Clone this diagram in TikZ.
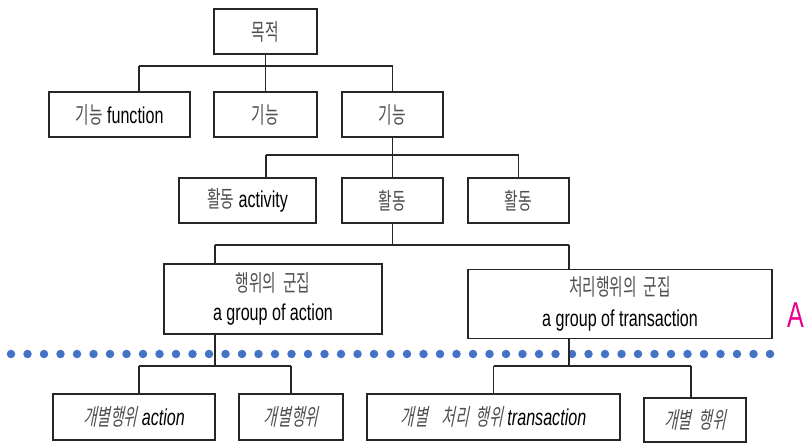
\documentclass[tikz,border=0pt]{standalone}
\usepackage{fontspec}
\setmainfont{Liberation Sans}[FakeStretch=0.70]
\newfontfamily\kr{Noto Sans CJK KR}[FakeStretch=0.64]
\newfontfamily\krit{Noto Sans CJK KR}[FakeStretch=0.64,FakeSlant=0.2]
\definecolor{dotblue}{HTML}{4472C4}
\definecolor{krgray}{HTML}{505050}
\newcommand{\K}[1]{{\kr\color{krgray}#1}}
\newcommand{\KI}[1]{{\krit\color{krgray}#1}}
\newcommand{\ks}{\hspace{7pt}}
\tikzset{
  bx/.style={draw=black!85, line width=1.4pt, fill=white, inner sep=0pt, align=center,
    font=\fontsize{23}{29}\selectfont},
  bxi/.style={bx, font=\fontsize{23}{29}\selectfont\itshape},
  ln/.style={draw=black!85, line width=1.2pt},
  bus/.style={draw=black!85, line width=1.8pt},
}
\begin{document}
\begin{tikzpicture}[x=1pt,y=-1pt]
\useasboundingbox (0,0) rectangle (804,443);
% dotted separator
\coordinate (dl) at (11,354);
\coordinate (dr) at (772,354);
\draw[dotblue, line width=8.5pt, line cap=round, dash pattern=on 0pt off 16.5pt] (dl) -- (dr);
% level 1
\node[bx, minimum width=103pt, minimum height=45pt] (t) at (265.5,31.5) {\K{목적}};
% level 2
\node[bx, minimum width=141pt, minimum height=45pt] (f1) at (119.5,114.5) {\K{기능} function};
\node[bx, minimum width=103pt, minimum height=45pt] (f2) at (265.5,114.5) {\K{기능}};
\node[bx, minimum width=101pt, minimum height=45pt] (f3) at (392.5,114.5) {\K{기능}};
% level 3
\node[bx, minimum width=137pt, minimum height=45pt] (a1) at (247.5,200.5) {\K{활동} activity};
\node[bx, minimum width=101pt, minimum height=45pt] (a2) at (392.5,200.5) {\K{활동}};
\node[bx, minimum width=101pt, minimum height=45pt] (a3) at (518.5,200.5) {\K{활동}};
% level 4
\node[bx, minimum width=218pt, minimum height=70pt] (g1) at (273,299) {\K{행위의\ks 군집}\\a group of action};
\node[bx, minimum width=304pt, minimum height=69pt] (g2) at (620,304) {\K{처리행위의\ks 군집}\\[2pt]a group of transaction};
% level 5
\node[bxi, minimum width=162pt, minimum height=46pt] (i1) at (134,417) {\KI{개별행위} action};
\node[bxi, minimum width=104pt, minimum height=46pt] (i2) at (291,417) {\KI{개별행위}};
\node[bxi, minimum width=253pt, minimum height=46pt] (i3) at (493.5,417) {\KI{개별\ks\ks 처리\ks 행위} transaction};
\node[bxi, minimum width=102pt, minimum height=44pt] (i4) at (695,420) {\KI{개별\ks 행위}};
% label A
\node[anchor=west, inner sep=0pt, text=magenta, font=\fontsize{36}{40}\selectfont] (lblA) at (787,315) {A};
% buses
\coordinate (b1l) at (139,66);
\coordinate (b1r) at (392.5,66);
\coordinate (b2l) at (266,155);
\coordinate (b2r) at (518.5,155);
\coordinate (b3l) at (215,245);
\coordinate (b3r) at (569,245);
\coordinate (b4l) at (139,366);
\coordinate (b4m) at (215,366);
\coordinate (b4r) at (291,366);
\coordinate (b5l) at (493.5,366);
\coordinate (b5m) at (569,366);
\coordinate (b5r) at (691,366);
\draw[ln] (t.south) -- (f2.north);
\draw[bus] (b1l) -- (b1r);
\draw[ln] (b1l) -- (b1l |- f1.north);
\draw[ln] (b1r) -- (f3.north);
\draw[ln] (f3.south) -- (a2.north);
\draw[bus] (b2l) -- (b2r);
\draw[ln] (b2l) -- (b2l |- a1.north);
\draw[ln] (b2r) -- (a3.north);
\draw[ln] (a2.south) -- (a2.south |- b3l);
\draw[bus] (b3l) -- (b3r);
\draw[ln] (b3l) -- (b3l |- g1.north);
\draw[ln] (b3r) -- (b3r |- g2.north);
\draw[ln] (b3l |- g1.south) -- (b4m);
\draw[ln] (b3r |- g2.south) -- (b5m);
\draw[ln] (b4l) -- (b4r);
\draw[ln] (b4l) -- (b4l |- i1.north);
\draw[ln] (b4r) -- (i2.north);
\draw[ln] (b5l) -- (b5r);
\draw[ln] (b5l) -- (i3.north);
\draw[ln] (b5r) -- (b5r |- i4.north);
\end{tikzpicture}
\end{document}
